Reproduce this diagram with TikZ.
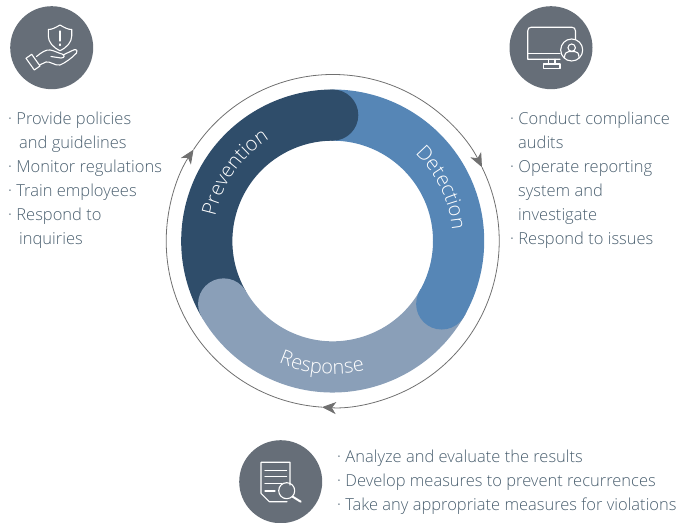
\documentclass[tikz,border=0pt]{standalone}
\usepackage{fontspec}
\setmainfont{Open Sans Light}[BoldFont=Open Sans]
\usetikzlibrary{decorations.text,arrows.meta}
\definecolor{cdark}{HTML}{2F4D6A}
\definecolor{cmid}{HTML}{5686B6}
\definecolor{clight}{HTML}{8A9FB8}
\definecolor{cdisc}{HTML}{666E78}
\definecolor{ctext}{HTML}{4B6070}
\definecolor{cring}{HTML}{707070}
\tikzset{
  disc/.style={circle,fill=cdisc,minimum size=83pt,inner sep=0pt},
  bullets/.style={anchor=north west,inner sep=0pt,align=left,text=ctext,
    font=\fontsize{16.5}{24}\selectfont},
  iconline/.style={draw=white,line width=1.1pt,line join=round,line cap=round},
  ringarrow/.style={draw=cring,line width=0.8pt,-{Stealth[length=14pt,width=12pt,inset=4pt]}},
  band/.style={line width=51.2pt},
  px/.style={shift={(0,522)},x=1pt,y=-1pt}
}
\newcommand{\bandtext}[4]{% path, unused, text, size
  \path[decorate,decoration={text along path,text align=center,
    text={|\fontsize{#4}{#4}\selectfont\color{white}|#3}}] #1;}
\begin{document}
\begin{tikzpicture}[x=1pt,y=1pt]
\useasboundingbox (0,0) rectangle (677,522);
\clip (0,0) rectangle (677,522);
\coordinate (c) at (332.7,281);
% bands
\draw[band,cmid] (c) ++(90:125.9) arc[start angle=90,end angle=-30,radius=125.9];
\fill[cmid] (c) ++(-30:125.9) circle[radius=25.6];
\draw[band,cdark] (c) ++(210:125.9) arc[start angle=210,end angle=90,radius=125.9];
\fill[cdark] (c) ++(90:125.9) circle[radius=25.6];
\draw[band,clight] (c) ++(-28:125.9) arc[start angle=-28,end angle=-150,radius=125.9];
\fill[clight] (c) ++(210:125.9) circle[radius=25.6];
\fill[cmid] (c) ++(-30:125.9) circle[radius=25.6];
% ring
\draw[ringarrow] (c) ++(146.7:166.5) arc[start angle=146.7,end angle=26.3,radius=166.5];
\draw[ringarrow] (c) ++(26.3:166.5) arc[start angle=26.3,end angle=-93.7,radius=166.5];
\draw[ringarrow] (c) ++(-93.7:166.5) arc[start angle=-93.7,end angle=-213.3,radius=166.5];
% band labels
\bandtext{(c) ++(180:120) arc[start angle=180,end angle=110,radius=120]}{}{Prevention}{20}
\bandtext{(c) ++(61:120) arc[start angle=61,end angle=-9,radius=120]}{}{Detection}{20}
\bandtext{(c) ++(-125:133) arc[start angle=-125,end angle=-65,radius=133]}{}{Response}{20}
% discs
\node[disc] (d1) at (51.7,474.3) {};
\node[disc] (d2) at (551,474.3) {};
\node[disc] (d3) at (280.7,40.3) {};
% icons
\begin{scope}[px,iconline]
  % shield
  \draw (60,25) .. controls (55,28) and (52,29.5) .. (48.3,29.5)
    -- (48.3,36) .. controls (48.3,42) and (53,47.5) .. (60,50.7)
    .. controls (67,47.5) and (71.7,42) .. (71.7,36) -- (71.7,29.5)
    .. controls (68,29.5) and (65,28) .. (60,25) -- cycle;
  \draw (60,31) -- (60,41) (60,44) -- (60,45.5);
  % hand
  \draw (26,58.3) -- (31.7,54.3) -- (40,66) -- (34.3,70) -- cycle;
  \draw (36.5,56.5) .. controls (42,52) and (46,49.5) .. (50,50)
    .. controls (54,50.5) and (58,53) .. (62,54)
    .. controls (65,55) and (65,58) .. (61,58) -- (51,56.5);
  \draw (63,55) -- (74,49.8) .. controls (77,49) and (78,51.5) .. (76.5,53)
    .. controls (72,58) and (65,63) .. (60,65)
    .. controls (55,66) and (50,61) .. (46,62) -- (39.5,65);
  % monitor
  \draw (560,59.3) -- (527.7,59.3) -- (527.7,31)
    .. controls (527.7,28.5) and (529,27.3) .. (531,27.3) -- (572,27.3)
    .. controls (574,27.3) and (575.5,28.5) .. (575.5,31) -- (575.5,39);
  \draw (527.7,53.5) -- (560,53.5);
  \draw (548.3,59.3) -- (548.3,64) (555,59.3) -- (555,64);
  \draw (543.3,64) rectangle (560,68.3);
  \draw (571.7,50) circle[radius=11];
  \draw (571.7,47.7) circle[radius=3.7];
  \draw (564.5,57.5) .. controls (564.5,53) and (567,51.5) .. (569,51.5)
    -- (574.5,51.5) .. controls (577,51.5) and (579,53) .. (579,57.5);
  % document
  \draw (290,485) -- (290,462.3) -- (261,462.3) -- (261,493.3) -- (269.3,501.7) -- (287,501.7);
  \draw (265,470.7) -- (286.7,470.7) (265,476.7) -- (286.7,476.7)
    (265,483.3) -- (282,483.3) (265,491) -- (275,491);
  \draw (286.7,490.7) circle[radius=8];
  \draw[line width=2pt] (292.7,496.7) -- (300.7,501.7);
\end{scope}
% texts
\node[bullets] (t1) at (8,410) {\textperiodcentered\ Provide policies\\
  \hspace*{11pt}and guidelines\\
  \textperiodcentered\ Monitor regulations\\
  \textperiodcentered\ Train employees\\
  \textperiodcentered\ Respond to\\
  \hspace*{11pt}inquiries};
\node[bullets] (t2) at (510,410) {\textperiodcentered\ Conduct compliance\\
  \hspace*{8pt}audits\\
  \textperiodcentered\ Operate reporting\\
  \hspace*{8pt}system and\\
  \hspace*{8pt}investigate\\
  \textperiodcentered\ Respond to issues};
\node[bullets] (t3) at (337,72) {\textperiodcentered\ Analyze and evaluate the results\\
  \textperiodcentered\ Develop measures to prevent recurrences\\
  \textperiodcentered\ Take any appropriate measures for violations};
\end{tikzpicture}
\end{document}
